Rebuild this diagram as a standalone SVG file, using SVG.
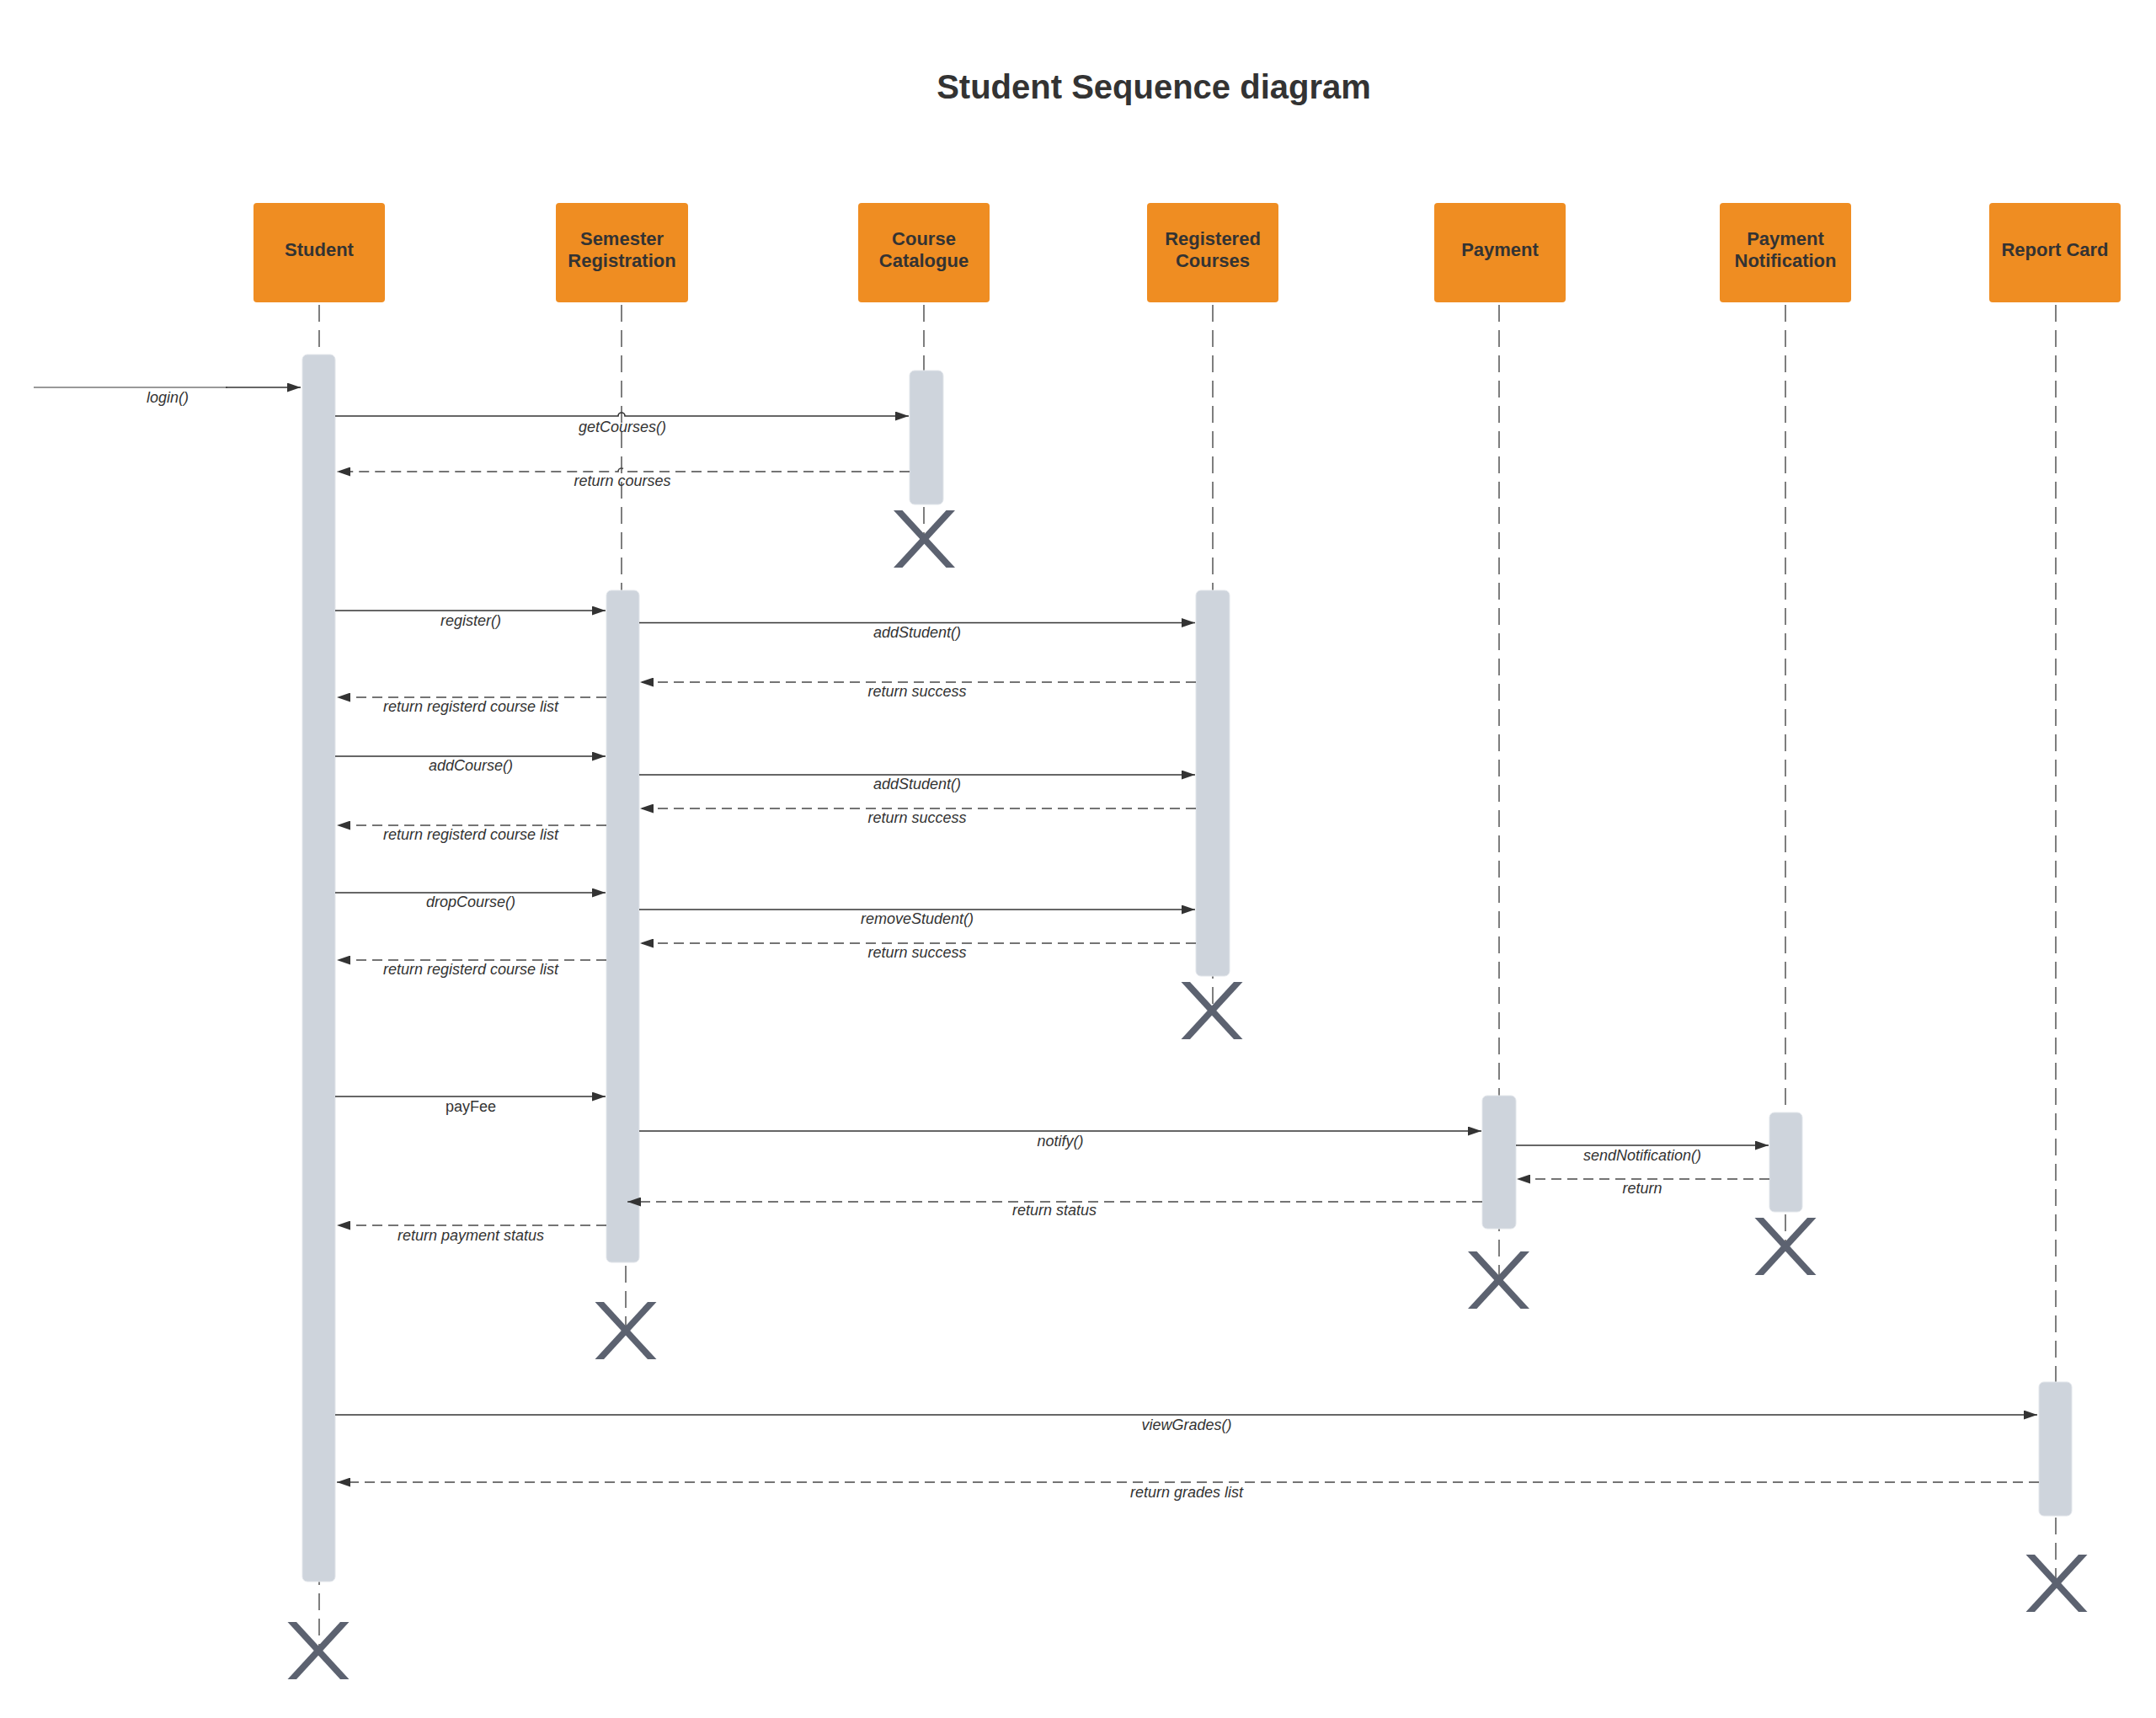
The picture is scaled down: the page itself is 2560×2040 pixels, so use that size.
<svg xmlns="http://www.w3.org/2000/svg" xmlns:xlink="http://www.w3.org/1999/xlink" width="2560" height="2040" viewBox="0 0 2560 2040">
<defs>
<style>
.bg{fill:#ffffff}
.title{font-family:"Liberation Sans",Arial,sans-serif;font-weight:bold;font-size:40px;fill:#333333;text-anchor:middle}
.box{fill:#EF8D22}
.bt{font-family:"Liberation Sans",Arial,sans-serif;font-weight:bold;font-size:22px;fill:#333333;text-anchor:middle}
.life{stroke:#3a3a3a;stroke-width:1.3;stroke-dasharray:20 10;fill:none}
.act{fill:#CED4DC;stroke:#E2E6EB;stroke-width:1}
.msg{stroke:#333333;stroke-width:1.6;fill:none;marker-end:url(#arr)}
.ret{stroke:#474747;stroke-dasharray:12 7}
.lbl{font-family:"Liberation Sans",Arial,sans-serif;font-style:italic;font-size:18px;fill:#333333;text-anchor:middle}
.up{font-style:normal}
.xm{fill:#5C6270}
</style>
<marker id="arr" markerUnits="userSpaceOnUse" markerWidth="16" markerHeight="11" refX="16" refY="5.5" orient="auto">
<path d="M0,0 L16,5.5 L0,11 Z" fill="#333333"/>
</marker>
<g id="destroy">
<polygon class="xm" points="-36.5,-34 -26,-34 36.5,34 26,34"/>
<polygon class="xm" points="26,-34 36.5,-34 -26,34 -36.5,34"/>
</g>
</defs>
<rect class="bg" x="0" y="0" width="2560" height="2040"/>
<text class="title" x="1370" y="117">Student Sequence diagram</text>

<g id="node-student">
<line class="life" x1="379" y1="362" x2="379" y2="1960"/>
<rect class="box" x="301" y="241" width="156" height="118" rx="4"/>
<text class="bt" x="379" y="304">Student</text>
<rect class="act" x="359" y="421" width="39" height="1457" rx="6"/>
<use xlink:href="#destroy" href="#destroy" x="378" y="1960"/>
</g>

<g id="node-semester-registration">
<line class="life" x1="738" y1="362" x2="738" y2="701"/>
<line class="life" x1="743" y1="1503" x2="743" y2="1580"/>
<rect class="box" x="660" y="241" width="157" height="118" rx="4"/>
<text class="bt" x="738.5" y="291">Semester</text>
<text class="bt" x="738.5" y="317">Registration</text>
<rect class="act" x="720" y="701" width="39" height="798" rx="6"/>
<use xlink:href="#destroy" href="#destroy" x="743" y="1580"/>
</g>

<g id="node-course-catalogue">
<line class="life" x1="1097" y1="362" x2="1097" y2="640"/>
<rect class="box" x="1019" y="241" width="156" height="118" rx="4"/>
<text class="bt" x="1097" y="291">Course</text>
<text class="bt" x="1097" y="317">Catalogue</text>
<rect class="act" x="1080" y="440" width="40" height="159" rx="6"/>
<use xlink:href="#destroy" href="#destroy" x="1097.5" y="640"/>
</g>

<g id="node-registered-courses">
<line class="life" x1="1440" y1="362" x2="1440" y2="1200"/>
<rect class="box" x="1362" y="241" width="156" height="118" rx="4"/>
<text class="bt" x="1440" y="291">Registered</text>
<text class="bt" x="1440" y="317">Courses</text>
<rect class="act" x="1420" y="701" width="40" height="458" rx="6"/>
<use xlink:href="#destroy" href="#destroy" x="1439" y="1200"/>
</g>

<g id="node-payment">
<line class="life" x1="1780" y1="362" x2="1780" y2="1520"/>
<rect class="box" x="1703" y="241" width="156" height="118" rx="4"/>
<text class="bt" x="1781" y="304">Payment</text>
<rect class="act" x="1760" y="1301" width="40" height="158" rx="6"/>
<use xlink:href="#destroy" href="#destroy" x="1779.5" y="1520"/>
</g>

<g id="node-payment-notification">
<line class="life" x1="2120" y1="362" x2="2120" y2="1480"/>
<rect class="box" x="2042" y="241" width="156" height="118" rx="4"/>
<text class="bt" x="2120" y="291">Payment</text>
<text class="bt" x="2120" y="317">Notification</text>
<rect class="act" x="2101" y="1321" width="39" height="118" rx="6"/>
<use xlink:href="#destroy" href="#destroy" x="2120" y="1480"/>
</g>

<g id="node-report-card">
<line class="life" x1="2441" y1="362" x2="2441" y2="1880"/>
<rect class="box" x="2362" y="241" width="156" height="118" rx="4"/>
<text class="bt" x="2440" y="304">Report Card</text>
<rect class="act" x="2421" y="1641" width="39" height="159" rx="6"/>
<use xlink:href="#destroy" href="#destroy" x="2442" y="1880"/>
</g>

<g id="connectors">
<line x1="40" y1="460" x2="270" y2="460" stroke="#777777" stroke-width="1.6"/>
<path class="msg" d="M268,460 H357"/>
<text class="lbl" x="199" y="478">login()</text>

<path class="msg" d="M398,494 H734 A4,4 0 0 1 742,494 H1079"/>
<text class="lbl" x="739" y="513">getCourses()</text>
<path class="msg ret" d="M1080,560 H742 A4,4 0 0 0 734,560 H400"/>
<text class="lbl" x="739" y="577">return courses</text>

<path class="msg" d="M398,725 H719"/>
<text class="lbl" x="559" y="743">register()</text>
<path class="msg" d="M759,739.5 H1419"/>
<text class="lbl" x="1089" y="757">addStudent()</text>
<path class="msg ret" d="M1420,810 H760"/>
<text class="lbl" x="1089" y="827">return success</text>
<path class="msg ret" d="M720,828 H400"/>
<text class="lbl" x="559" y="845">return registerd course list</text>

<path class="msg" d="M398,898 H719"/>
<text class="lbl" x="559" y="915">addCourse()</text>
<path class="msg" d="M759,920 H1419"/>
<text class="lbl" x="1089" y="937">addStudent()</text>
<path class="msg ret" d="M1420,960 H760"/>
<text class="lbl" x="1089" y="977">return success</text>
<path class="msg ret" d="M720,980 H400"/>
<text class="lbl" x="559" y="997">return registerd course list</text>

<path class="msg" d="M398,1060 H719"/>
<text class="lbl" x="559" y="1077">dropCourse()</text>
<path class="msg" d="M759,1080 H1419"/>
<text class="lbl" x="1089" y="1097">removeStudent()</text>
<path class="msg ret" d="M1420,1120 H760"/>
<text class="lbl" x="1089" y="1137">return success</text>
<path class="msg ret" d="M720,1140 H400"/>
<text class="lbl" x="559" y="1157">return registerd course list</text>

<path class="msg" d="M398,1302 H719"/>
<text class="lbl up" x="559" y="1320">payFee</text>
<path class="msg" d="M759,1343 H1759"/>
<text class="lbl" x="1259" y="1361">notify()</text>
<path class="msg" d="M1800,1360 H2100"/>
<text class="lbl" x="1950" y="1378">sendNotification()</text>
<path class="msg ret" d="M2101,1400 H1801"/>
<text class="lbl" x="1950" y="1417">return</text>
<path class="msg ret" d="M1760,1427 H745"/>
<text class="lbl" x="1252" y="1443">return status</text>
<path class="msg ret" d="M720,1455 H400"/>
<text class="lbl" x="559" y="1473">return payment status</text>

<path class="msg" d="M398,1680 H2419"/>
<text class="lbl" x="1409" y="1698">viewGrades()</text>
<path class="msg ret" d="M2421,1760 H400"/>
<text class="lbl" x="1409" y="1778">return grades list</text>
</g>
</svg>
